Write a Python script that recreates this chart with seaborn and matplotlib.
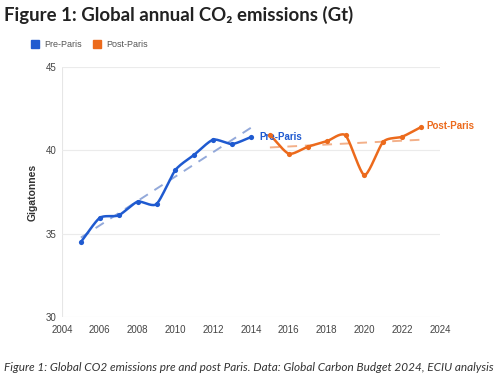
import numpy as np
import pandas as pd
import seaborn as sns
import matplotlib.pyplot as plt
from matplotlib.lines import Line2D

# -----------------------------
# Data
# -----------------------------
pre_years = [2005, 2006, 2007, 2008, 2009, 2010, 2011, 2012, 2013, 2014]
pre_values = [34.5, 35.95, 36.1, 36.92, 36.78, 38.82, 39.74, 40.64, 40.38, 40.8]
post_years = [2015, 2016, 2017, 2018, 2019, 2020, 2021, 2022, 2023]
post_values = [40.94, 39.8, 40.22, 40.54, 40.9, 38.52, 40.52, 40.82, 41.4]
x_ticks = list(range(2004, 2025, 2))
y_ticks = [30, 35, 40, 45]

BLUE = "#1f5ad0"
ORANGE = "#ec6a1c"
BLUE_TREND = "#93a9da"
ORANGE_TREND = "#f3b089"

pre_df = pd.DataFrame({"year": pre_years, "gt": pre_values})
post_df = pd.DataFrame({"year": post_years, "gt": post_values})


def smooth(x, y, n=20, c=0.7):
    # cardinal spline through the points, only for drawing the line
    x = np.asarray(x, float)
    y = np.asarray(y, float)
    px = np.concatenate([[2 * x[0] - x[1]], x, [2 * x[-1] - x[-2]]])
    py = np.concatenate([[2 * y[0] - y[1]], y, [2 * y[-1] - y[-2]]])
    t = np.linspace(0, 1, n, endpoint=False)
    h00 = 2 * t ** 3 - 3 * t ** 2 + 1
    h10 = t ** 3 - 2 * t ** 2 + t
    h01 = -2 * t ** 3 + 3 * t ** 2
    h11 = t ** 3 - t ** 2
    xs, ys = [], []
    for i in range(1, len(px) - 2):
        for p, out in ((px, xs), (py, ys)):
            m1 = c * (p[i + 1] - p[i - 1]) / 2
            m2 = c * (p[i + 2] - p[i]) / 2
            out.extend(h00 * p[i] + h10 * m1 + h01 * p[i + 1] + h11 * m2)
    xs.append(x[-1])
    ys.append(y[-1])
    return np.array(xs), np.array(ys)


# -----------------------------
# Plot
# -----------------------------
sns.set_style("white")
plt.rcParams["font.family"] = ["Lato", "DejaVu Sans"]

fig = plt.figure(figsize=(5, 3.81), dpi=100)
ax = fig.add_axes([0.124, 0.168, 0.756, 0.656])

for df, col, tcol in ((pre_df, BLUE, BLUE_TREND), (post_df, ORANGE, ORANGE_TREND)):
    sns.regplot(data=df, x="year", y="gt", ax=ax, scatter=False, ci=None,
                line_kws=dict(color=tcol, lw=1.4, ls=(0, (5, 4))))
    sx, sy = smooth(df["year"], df["gt"])
    ax.plot(sx, sy, color=col, lw=1.8, solid_capstyle="round")
    sns.scatterplot(data=df, x="year", y="gt", ax=ax, color=col, s=14,
                    edgecolor=col, linewidth=0, zorder=5)

ax.annotate("Pre-Paris", (pre_years[-1], pre_values[-1]), xytext=(6, 0),
            textcoords="offset points", color=BLUE, fontsize=7,
            fontweight="bold", va="center", family="Liberation Sans")
ax.annotate("Post-Paris", (post_years[-1], post_values[-1]), xytext=(4, 1),
            textcoords="offset points", color=ORANGE, fontsize=7,
            fontweight="bold", va="center", family="Liberation Sans")

ax.set_xlim(2004, 2024)
ax.set_ylim(30, 45)
ax.set_xticks(x_ticks)
ax.set_yticks(y_ticks)
ax.grid(axis="y", color="#ebebeb", lw=0.8)
ax.set_axisbelow(True)
for s in ax.spines.values():
    s.set_visible(False)
ax.axvline(2004, color="#e6e6e6", lw=0.8, zorder=0)
ax.tick_params(length=0, labelsize=7, labelcolor="#444444", pad=4)
for t in ax.get_xticklabels() + ax.get_yticklabels():
    t.set_family("Liberation Sans")
ax.tick_params(axis="x", pad=6)
ax.set_xlabel("")
ax.set_ylabel("Gigatonnes", fontsize=7.5, fontweight="bold", color="#333333",
              family="Liberation Sans", labelpad=6)

# legend
handles = [Line2D([], [], marker="s", ls="", color=BLUE, markersize=5.5),
           Line2D([], [], marker="s", ls="", color=ORANGE, markersize=5.5)]
fig.legend(handles, ["Pre-Paris", "Post-Paris"], loc="center left",
           bbox_to_anchor=(0.035, 0.882), ncol=2, frameon=False,
           handletextpad=0.1, columnspacing=0.6,
           labelcolor="#555555", prop={"family": "Liberation Sans", "size": 6.5})

fig.text(0.008, 0.962, "Figure 1: Global annual CO₂ emissions (Gt)",
         fontsize=13.4, fontweight="bold", color="#222222", va="center")
fig.text(0.008, 0.036, "Figure 1: Global CO2 emissions pre and post Paris. "
         "Data: Global Carbon Budget 2024, ECIU analysis",
         fontsize=8.45, style="italic", color="#333333", va="center")

fig.savefig("out.png", dpi=100)
plt.close()
